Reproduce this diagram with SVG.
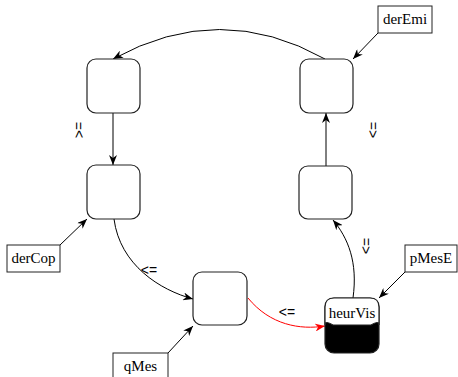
<svg xmlns="http://www.w3.org/2000/svg" width="458" height="377" viewBox="0 0 458 377">
<style>
.node{fill:#fff;stroke:#222;stroke-width:1.2}
.lbl{fill:#fff;stroke:#222;stroke-width:1}
.edge{fill:none;stroke:#000;stroke-width:1}
.red{fill:none;stroke:#f00;stroke-width:1}
text{font-family:"Liberation Serif","Times New Roman",serif;font-size:15px;fill:#000}
.sym{font-family:"Liberation Sans",Arial,sans-serif;font-size:14px}
</style>
<defs>
<marker id="ah" viewBox="0 0 10 8" refX="10" refY="4" markerWidth="10" markerHeight="8" markerUnits="userSpaceOnUse" orient="auto">
<path d="M0,0 L10,4 L0,8 L3,4 Z" fill="#000"/>
</marker>
<marker id="ahr" viewBox="0 0 10 8" refX="10" refY="4" markerWidth="10" markerHeight="8" markerUnits="userSpaceOnUse" orient="auto">
<path d="M0,0 L10,4 L0,8 L3,4 Z" fill="#f00"/>
</marker>
</defs>
<g id="connectors">
<path class="edge" d="M325,59 Q220,0 113,59" marker-end="url(#ah)"/>
<path class="edge" d="M113,113 L113,165" marker-end="url(#ah)"/>
<path class="edge" d="M326,166 L326,113" marker-end="url(#ah)"/>
<path class="edge" d="M353,298 C358,262 348,238 333,220" marker-end="url(#ah)"/>
<path class="edge" d="M114,219 C120,265 160,290 193,299" marker-end="url(#ah)"/>
<path class="red" d="M248,298 C270,325 300,330 325,326" marker-end="url(#ahr)"/>
<path class="edge" d="M378,33 L353,59" marker-end="url(#ah)"/>
<path class="edge" d="M405,272 L379,298" marker-end="url(#ah)"/>
<path class="edge" d="M168,353 L193,326" marker-end="url(#ah)"/>
<path class="edge" d="M60,245 L87,219" marker-end="url(#ah)"/>
<text class="sym" transform="translate(79,130) rotate(-90)" text-anchor="middle" dominant-baseline="central">&gt;=</text>
<text class="sym" transform="translate(373,130) rotate(90)" text-anchor="middle" dominant-baseline="central">=&gt;</text>
<text class="sym" transform="translate(366,246) rotate(90)" text-anchor="middle" dominant-baseline="central">=&gt;</text>
<text class="sym" x="149" y="275" text-anchor="middle">&lt;=</text>
<text class="sym" x="287" y="317" text-anchor="middle">&lt;=</text>
</g>
<g id="nodeA"><rect class="node" x="87" y="59" width="53" height="54" rx="9"/></g>
<g id="nodeB"><rect class="node" x="300" y="59" width="53" height="54" rx="9"/></g>
<g id="nodeC"><rect class="node" x="87" y="165" width="53" height="54" rx="9"/></g>
<g id="nodeD"><rect class="node" x="299" y="166" width="53" height="53" rx="9"/></g>
<g id="nodeE"><rect class="node" x="193" y="272" width="54" height="53" rx="9"/></g>
<g id="heurVis">
<rect x="325" y="298" width="54" height="55" rx="9" fill="#000" stroke="#222" stroke-width="1.2"/>
<path d="M325,325 L325,307 Q325,298 334,298 L370,298 Q379,298 379,307 L379,325 Q379,320 371,325 L333,325 Q325,320 325,325 Z" fill="#fff" stroke="#222" stroke-width="1.2"/>
<text x="352" y="318" text-anchor="middle">heurVis</text>
</g>
<g id="derEmi"><rect class="lbl" x="378" y="6" width="54" height="27"/><text x="405" y="24" text-anchor="middle">derEmi</text></g>
<g id="derCop"><rect class="lbl" x="7" y="245" width="53" height="27"/><text x="33.5" y="263" text-anchor="middle">derCop</text></g>
<g id="pMesE"><rect class="lbl" x="405" y="245" width="52" height="27"/><text x="431" y="263" text-anchor="middle">pMesE</text></g>
<g id="qMes"><rect class="lbl" x="113" y="353" width="55" height="27"/><text x="140.5" y="371" text-anchor="middle">qMes</text></g>
</svg>
